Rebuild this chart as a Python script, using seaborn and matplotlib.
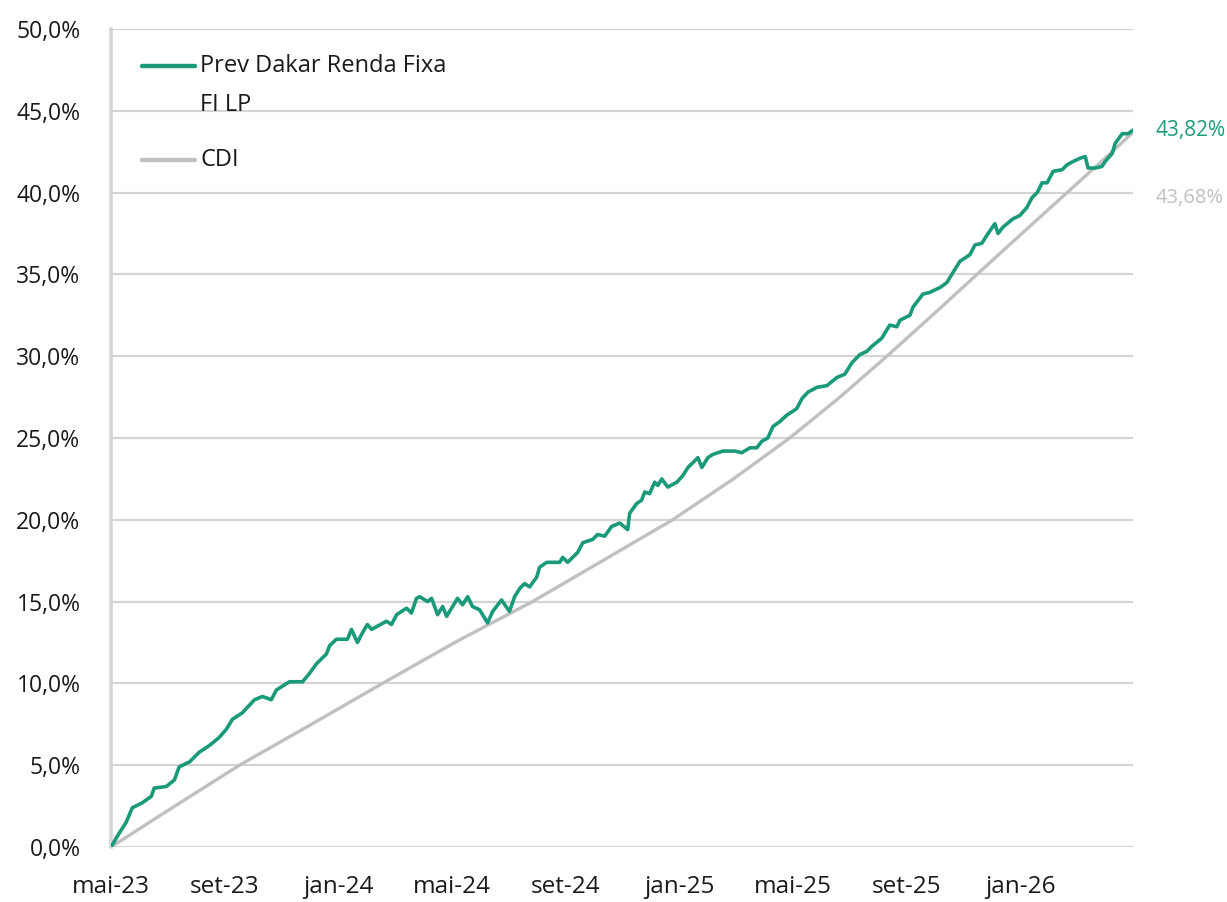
import matplotlib
matplotlib.use("Agg")
import matplotlib.pyplot as plt
import seaborn as sns
import pandas as pd
from matplotlib.lines import Line2D

# ---- data (months since mai-23, cumulative return %) ----
fund_month = [0.00, 0.29, 0.53, 0.75, 1.10, 1.42, 1.52, 1.95, 2.23, 2.40, 2.76, 3.11, 3.46, 3.81,
              4.06, 4.27, 4.62, 5.05, 5.33, 5.64, 5.82, 6.28, 6.74, 6.98, 7.23, 7.58, 7.69, 7.93,
              8.32, 8.46, 8.67, 8.85, 9.02, 9.17, 9.69, 9.87, 10.05, 10.40, 10.57, 10.75, 10.86,
              11.14, 11.28, 11.49, 11.67, 11.81, 12.02, 12.19, 12.37, 12.55, 12.72, 12.97, 13.25,
              13.43, 13.74, 14.02, 14.20, 14.38, 14.55, 14.73, 14.98, 15.08, 15.33, 15.79, 15.89,
              16.07, 16.24, 16.42, 16.60, 16.95, 17.12, 17.37, 17.62, 17.90, 18.18, 18.25, 18.50,
              18.67, 18.78, 18.95, 19.13, 19.24, 19.38, 19.59, 19.91, 20.12, 20.30, 20.48, 20.65,
              20.79, 21.00, 21.18, 21.53, 21.95, 22.19, 22.48, 22.72, 22.90, 23.11, 23.29, 23.53,
              23.78, 23.96, 24.13, 24.31, 24.52, 24.84, 25.19, 25.54, 25.82, 26.07, 26.35, 26.60,
              26.77, 27.12, 27.40, 27.65, 27.76, 28.11, 28.22, 28.57, 28.81, 29.17, 29.41, 29.62,
              29.87, 30.22, 30.40, 30.64, 30.86, 31.10, 31.21, 31.39, 31.74, 31.98, 32.23, 32.41,
              32.59, 32.76, 32.94, 33.15, 33.47, 33.64, 33.85, 34.10, 34.28, 34.38, 34.63, 34.87,
              34.98, 35.23, 35.33, 35.58, 35.79, 35.96]
fund_value = [0.0, 0.85, 1.5, 2.4, 2.7, 3.1, 3.6, 3.7, 4.1, 4.9, 5.2, 5.8, 6.2, 6.7,
              7.2, 7.8, 8.2, 9.0, 9.2, 9.0, 9.6, 10.1, 10.1, 10.6, 11.2, 11.8, 12.3, 12.7,
              12.7, 13.3, 12.5, 13.1, 13.6, 13.3, 13.8, 13.6, 14.2, 14.6, 14.3, 15.2, 15.3,
              15.0, 15.2, 14.2, 14.7, 14.1, 14.7, 15.2, 14.8, 15.3, 14.7, 14.5, 13.7,
              14.4, 15.1, 14.4, 15.3, 15.8, 16.1, 15.9, 16.5, 17.1, 17.4, 17.4, 17.7,
              17.4, 17.7, 18.0, 18.6, 18.8, 19.1, 19.0, 19.6, 19.8, 19.4, 20.4, 21.0,
              21.2, 21.7, 21.6, 22.3, 22.1, 22.5, 22.0, 22.3, 22.7, 23.2, 23.5, 23.8,
              23.2, 23.8, 24.0, 24.2, 24.2, 24.1, 24.4, 24.4, 24.8, 25.0, 25.7, 26.0,
              26.4, 26.6, 26.8, 27.4, 27.8, 28.1, 28.2, 28.7, 28.9, 29.6, 30.1, 30.3,
              30.6, 31.1, 31.9, 31.8, 32.2, 32.5, 33.0, 33.8, 33.9, 34.2, 34.5, 35.1,
              35.8, 36.2, 36.8, 36.9, 37.5, 38.1, 37.5, 37.9, 38.4, 38.6, 39.1, 39.7,
              40.0, 40.6, 40.6, 41.3, 41.4, 41.7, 41.9, 42.1, 42.2, 41.5, 41.5, 41.6,
              41.9, 42.4, 43.0, 43.6, 43.6, 43.82]

cdi_month = [0.00, 2.20, 4.52, 7.00, 9.55, 12.20, 14.83, 17.30, 19.76, 21.90, 23.88,
             25.65, 27.30, 28.90, 30.47, 32.05, 33.64, 34.85, 35.96]
cdi_value = [0.0, 2.45, 5.0, 7.45, 10.0, 12.6, 15.0, 17.5, 20.0, 22.5, 25.0,
             27.5, 30.0, 32.5, 35.0, 37.5, 40.0, 41.9, 43.68]

tick_months = [0, 4, 8, 12, 16, 20, 24, 28, 32]
tick_labels = ["mai-23", "set-23", "jan-24", "mai-24", "set-24", "jan-25", "mai-25", "set-25", "jan-26"]
y_ticks = [0, 5, 10, 15, 20, 25, 30, 35, 40, 45, 50]

series_names = ["Prev Dakar Renda Fixa\nFI LP", "CDI"]
final_labels = ["43,82%", "43,68%"]

GREEN = "#1b9a7b"
GREY = "#c0c0c0"
GRID = "#d4d4d4"
TXT = "#1a1a1a"

df = pd.concat([
    pd.DataFrame({"mes": fund_month, "ret": fund_value, "serie": series_names[0]}),
    pd.DataFrame({"mes": cdi_month, "ret": cdi_value, "serie": series_names[1]}),
])

sns.set_theme(style="white")
plt.rcParams["font.family"] = ["Open Sans", "DejaVu Sans"]

fig = plt.figure(figsize=(12.27, 9.02), dpi=100)
ax = fig.add_axes([111 / 1227, 55 / 902, (1133 - 111) / 1227, (847 - 29) / 902])

# gridlines
for yv in y_ticks:
    ax.axhline(yv, color=GRID, lw=1.6, zorder=0)

sns.lineplot(data=df[df.serie == series_names[1]], x="mes", y="ret", color=GREY, lw=2.4,
             ax=ax, legend=False, zorder=2, sort=False)
sns.lineplot(data=df[df.serie == series_names[0]], x="mes", y="ret", color=GREEN, lw=2.6,
             ax=ax, legend=False, zorder=3, sort=False)

ax.set_xlim(0, cdi_month[-1])
ax.set_ylim(0, 50)
ax.set_xticks(tick_months)
ax.set_xticklabels(tick_labels)
ax.set_yticks(y_ticks)
ax.set_yticklabels([f"{v:.1f}%".replace(".", ",") for v in y_ticks])
ax.tick_params(axis="both", length=0, labelsize=16.5, colors=TXT)
ax.tick_params(axis="x", labelsize=17.5, pad=20)
ax.tick_params(axis="y", pad=22)
ax.set_xlabel("")
ax.set_ylabel("")

for s in ["top", "right", "bottom"]:
    ax.spines[s].set_visible(False)
ax.spines["left"].set_color(GRID)
ax.spines["left"].set_linewidth(2.6)

# legend (frameless, upper left)
ax.add_line(Line2D([31 / 1022, 84 / 1022], [1 - 37 / 818, 1 - 37 / 818], transform=ax.transAxes,
                   color=GREEN, lw=3.2, clip_on=False))
ax.text(89 / 1022, 1 - 37 / 818, series_names[0].split("\n")[0], transform=ax.transAxes,
        fontsize=17, color=TXT, va="center", ha="left")
ax.text(89 / 1022, 1 - 76 / 818, series_names[0].split("\n")[1], transform=ax.transAxes,
        fontsize=17, color=TXT, va="center", ha="left")
ax.add_line(Line2D([31 / 1022, 84 / 1022], [1 - 131 / 818, 1 - 131 / 818], transform=ax.transAxes,
                   color=GREY, lw=3.2, clip_on=False))
ax.text(89 / 1022, 1 - 131 / 818, series_names[1], transform=ax.transAxes,
        fontsize=17, color=TXT, va="center", ha="left")

# end labels
ax.annotate(final_labels[0], xy=(fund_month[-1], fund_value[-1]), xytext=(23, 0),
            textcoords="offset pixels", fontsize=15, color=GREEN, va="center", ha="left",
            annotation_clip=False)
ax.annotate(final_labels[1], xy=(cdi_month[-1], cdi_value[-1]), xytext=(23, -66),
            textcoords="offset pixels", fontsize=14.5, color=GREY, va="center", ha="left",
            annotation_clip=False)

fig.savefig("out.png", dpi=100)
